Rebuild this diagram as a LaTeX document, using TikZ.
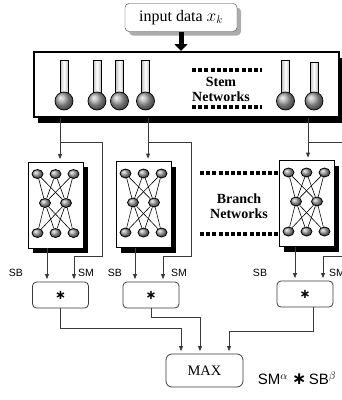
\documentclass[tikz,border=0pt]{standalone}
\usepackage{fontspec}
\setmainfont{Liberation Serif}
\newfontfamily\labelfont{Liberation Sans}
\newfontfamily\opfont{DejaVu Sans}
\usetikzlibrary{arrows.meta, calc, shapes.geometric, shadows}
\definecolor{wire}{HTML}{3A3A3A}
\newcommand{\opstar}{{\opfont\bfseries ∗}}
\tikzset{
  inbox/.style={
    draw=wire, fill=white, rounded corners=4pt,
    minimum width=112pt, minimum height=28pt,
    font=\fontsize{16}{18}\selectfont,
    general shadow={fill=gray!65, shadow xshift=4pt, shadow yshift=-4pt}
  },
  stembox/.style={
    draw, line width=2pt, fill=white,
    minimum width=305pt, minimum height=65pt,
    general shadow={fill=black, shadow xshift=4pt, shadow yshift=-6pt}
  },
  branchbox/.style={
    draw, line width=0.8pt, fill=white,
    minimum width=55pt, minimum height=86pt,
    general shadow={fill=black, shadow xshift=5pt, shadow yshift=-5pt}
  },
  neuron/.style={
    ellipse, draw, line width=0.8pt, ball color=gray!75,
    minimum width=11pt, minimum height=9pt, inner sep=0pt
  },
  synapse/.style={line width=0.6pt},
  tube/.style={draw, line width=0.7pt, left color=gray!50, right color=gray!50, middle color=white},
  bulb/.style={draw, line width=0.7pt, ball color=gray!70},
  opbox/.style={
    draw=wire, line width=0.8pt, rounded corners=4pt,
    minimum width=56pt, minimum height=26pt,
    font=\fontsize{13}{14}\selectfont
  },
  maxbox/.style={
    draw=wire, line width=0.8pt, rounded corners=6pt,
    minimum width=77pt, minimum height=33pt,
    font=\fontsize{14.5}{16}\selectfont
  },
  link/.style={draw=wire, line width=0.8pt, -{Triangle[length=5pt,width=4pt]}, shorten >=2.5pt},
  feed/.style={line width=5pt, -{Triangle[length=7pt,width=13pt]}},
  dotbar/.style={line width=3.2pt, dash pattern=on 4pt off 2.2pt},
  title/.style={font=\fontsize{14}{15.5}\selectfont\bfseries, align=center},
  tag/.style={font=\labelfont\fontsize{10.5}{12}\selectfont},
  formula/.style={font=\labelfont\fontsize{15}{17}\selectfont}
}

\begin{document}
\begin{tikzpicture}[x=1pt, y=-1pt]
  \useasboundingbox (0,0) rectangle (342,400);
  \clip (0,0) rectangle (342,400);

  % Input
  \node[inbox] (input) at (181,17.5) {input data $x_k$};

  % Stem networks
  \node[stembox] (stem) at (186,84.5) {};
  \draw[feed] (input.south) -- (input.south |- stem.north);
  \foreach \x/\top in {64/60, 97/60, 119.5/60, 145.5/60, 285.5/60, 314/62}{
    \draw[tube] (\x-4,\top) rectangle (\x+4,93);
    \draw[bulb] (\x,101) circle (9);
  }
  \node[title] (stemlbl) at (221,89.5) {Stem\\Networks};
  \draw[dotbar] (192,70) -- (262,70);
  \draw[dotbar] (192,107) -- (262,107);

  % Branch networks
  \node[branchbox] (br1) at (55.5,205) {};
  \node[branchbox] (br2) at (143.5,204.5) {};
  \node[branchbox] (br3) at (306.5,203.5) {};
  \foreach \b in {1,2,3}{
    \foreach \i/\dx in {1/-18, 2/0, 3/18}{
      \node[neuron] (n\b-t\i) at ($(br\b)+(\dx,-31)$) {};
      \node[neuron] (n\b-b\i) at ($(br\b)+(\dx,28)$) {};
    }
    \foreach \i/\dx in {1/-10.5, 2/10.5}
      \node[neuron] (n\b-m\i) at ($(br\b)+(\dx,-2)$) {};
    \foreach \i in {1,2,3}
      \foreach \j in {1,2}{
        \draw[synapse] (n\b-t\i) -- (n\b-m\j);
        \draw[synapse] (n\b-m\j) -- (n\b-b\i);
      }
  }
  \node[title] (brlbl) at (239,206) {Branch\\Networks};
  \draw[dotbar] (200,173) -- (278,173);
  \draw[dotbar] (200,234) -- (278,234);

  % Products and max
  \node[opbox] (op1) at (60.5,295) {\opstar};
  \node[opbox] (op2) at (151,295) {\opstar};
  \node[opbox] (op3) at (305,294) {\opstar};
  \node[maxbox] (max) at (204.5,370.5) {MAX};

  % taps on the stem outputs
  \coordinate (t1) at (60,142);
  \coordinate (t2) at (148,142);
  \coordinate (t3) at (308,142);
  \coordinate (sm1) at (102,256);
  \coordinate (sm2) at (191,256);
  \coordinate (sm3) at (352,256);
  \coordinate (sb1) at ([xshift=-8.5pt]br1.south);
  \coordinate (sb2) at ([xshift=-8.5pt]br2.south);
  \coordinate (sb3) at ([xshift=-11.5pt]br3.south);

  % stem -> branch, and the SM bypass
  \draw[link] (stem.south -| t1) -- (br1.north -| t1);
  \draw[link] (stem.south -| t2) -- (br2.north -| t2);
  \draw[link] (stem.south -| t3) -- (br3.north -| t3);
  \draw[link] (t1) -| (sm1) -| ([xshift=13.5pt]op1.north);
  \draw[link] (t2) -| (sm2) -| ([xshift=12pt]op2.north);
  \draw[link] (t3) -| (sm3) -| ([xshift=18pt]op3.north);

  % branch -> SB
  \draw[link] (sb1) -- (sb1 |- op1.north);
  \draw[link] (sb2) -- (sb2 |- op2.north);
  \draw[link] (sb3) -- (sb3 |- op3.north);

  \node[tag] (sbl1) at (16,272.5) {SB};
  \node[tag] (sml1) at (86,272.5) {SM};
  \node[tag] (sbl2) at (115,272.5) {SB};
  \node[tag] (sml2) at (179,272.5) {SM};
  \node[tag] (sbl3) at (260,272.5) {SB};
  \node[tag] (sml3) at (337,272.5) {SM};

  % products -> MAX
  \draw[link] (op1.south) -- ++(0,20) -| ([xshift=-23.5pt]max.north);
  \draw[link] (op2.south) -- ++(0,9) -| ([xshift=-4.5pt]max.north);
  \draw[link] ([xshift=8pt]op3.south) -- ++(0,24) -| ([xshift=24.5pt]max.north);

  \node[formula] (score) at (297,378) {SM$^{\alpha}$ {\fontsize{17}{17}\selectfont\opstar}\,SB$^{\beta}$};
\end{tikzpicture}
\end{document}
